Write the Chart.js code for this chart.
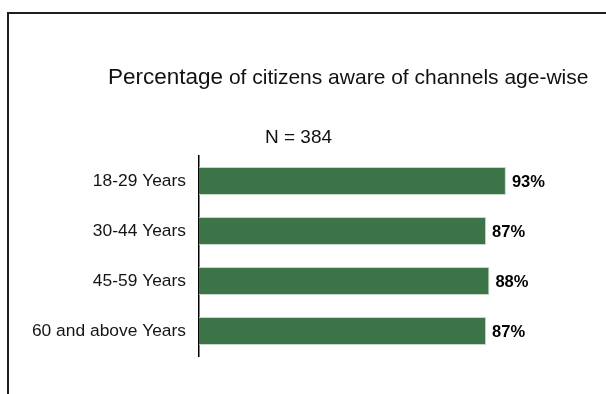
<!DOCTYPE html>
<html>
<head>
<meta charset="utf-8">
<script src="https://cdn.jsdelivr.net/npm/chart.js@4/dist/chart.umd.min.js"></script>
<style>
  html, body { margin: 0; padding: 0; background: #fff; }
  #wrap { position: relative; width: 606px; height: 394px; }
</style>
</head>
<body>
<div id="wrap"><canvas id="chart" width="606" height="394"></canvas></div>
<script>
// age groups and share of citizens aware of the channels (%)
const ageGroups = ['18-29 Years', '30-44 Years', '45-59 Years', '60 and above Years'];
const awareShare = [93, 87, 88, 87];
const sampleSize = 384;

const FONT = "'Liberation Sans', Arial, Helvetica, sans-serif";
Chart.defaults.font.family = FONT;

// frame, heading and sample size text
const headerPlugin = {
  id: 'header',
  afterDraw(chart) {
    const ctx = chart.ctx;
    ctx.save();
    ctx.strokeStyle = '#1e1e1e';
    ctx.lineWidth = 2;
    ctx.beginPath();
    ctx.moveTo(8, 394);
    ctx.lineTo(8, 13);
    ctx.lineTo(606, 13);
    ctx.stroke();

    ctx.fillStyle = '#111';
    ctx.textBaseline = 'alphabetic';
    ctx.textAlign = 'left';
    ctx.font = '22.5px ' + FONT;
    const first = 'Percentage';
    ctx.fillText(first, 108, 84);
    const w = ctx.measureText(first).width;
    ctx.font = '21px ' + FONT;
    ctx.fillText(' of citizens aware of channels age-wise', 108 + w, 84);

    ctx.font = '19px ' + FONT;
    ctx.fillText('N = ' + sampleSize, 265, 143);
    ctx.restore();
  }
};

// percentage labels at the end of each bar
const valueLabels = {
  id: 'valueLabels',
  afterDatasetsDraw(chart) {
    const ctx = chart.ctx;
    const meta = chart.getDatasetMeta(0);
    ctx.save();
    ctx.font = 'bold 16.5px ' + FONT;
    ctx.fillStyle = '#000';
    ctx.textAlign = 'left';
    ctx.textBaseline = 'middle';
    meta.data.forEach((bar, i) => {
      ctx.fillText(awareShare[i] + '%', bar.x + 6, bar.y + 1);
    });
    ctx.restore();
  }
};

new Chart(document.getElementById('chart'), {
  type: 'bar',
  data: {
    labels: ageGroups,
    datasets: [{
      data: awareShare,
      backgroundColor: '#3c7447',
      borderColor: 'rgba(190, 215, 195, 0.9)',
      borderWidth: 1,
      borderSkipped: 'left',
      categoryPercentage: 1,
      barPercentage: 0.56,
    }],
  },
  options: {
    indexAxis: 'y',
    responsive: false,
    animation: false,
    layout: { padding: { top: 156, bottom: 38, left: 0, right: 77 } },
    scales: {
      x: { display: false, min: 0, max: 100 },
      y: {
        afterFit(scale) { scale.width = 199; },
        grid: { display: false, drawTicks: false },
        border: { display: true, color: '#000', width: 1.5 },
        ticks: { color: '#141414', font: { size: 17.4 }, padding: 13 },
      },
    },
    plugins: {
      legend: { display: false },
      tooltip: { enabled: false },
    },
  },
  plugins: [headerPlugin, valueLabels],
});
</script>
</body>
</html>
